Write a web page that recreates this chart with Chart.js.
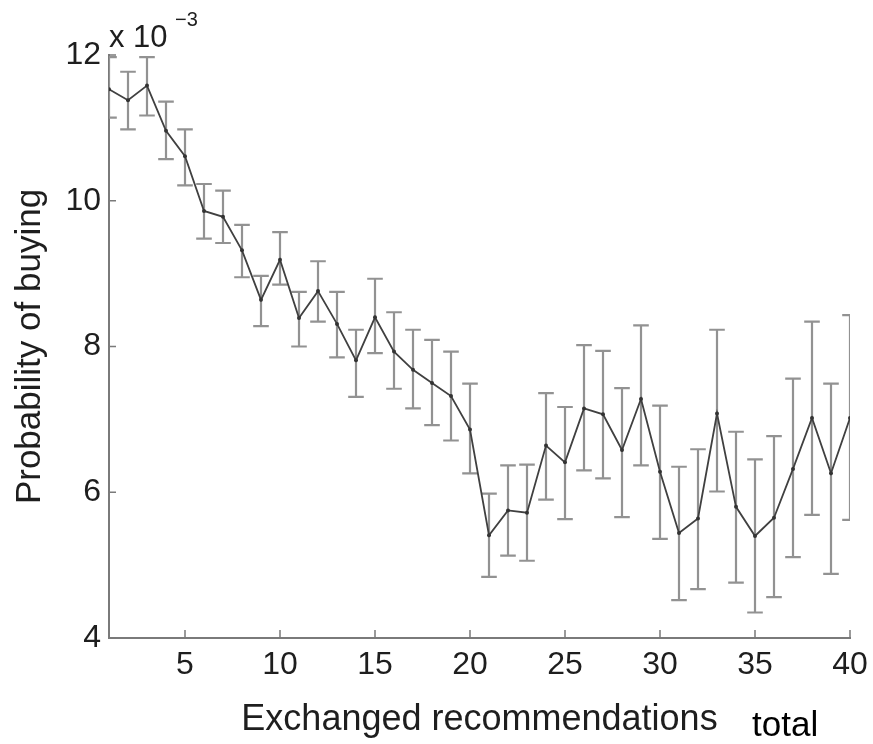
<!DOCTYPE html>
<html>
<head>
<meta charset="utf-8">
<script src="https://cdn.jsdelivr.net/npm/chart.js@4/dist/chart.umd.min.js"></script>
<style>
  html, body { margin: 0; padding: 0; background: #fff; }
  #wrap { width: 873px; height: 744px; }
</style>
</head>
<body>
<div id="wrap"><canvas id="prob-chart" width="873" height="744"></canvas></div>
<script>
/* recommendations exchanged (x) */
const counts = [1, 2, 3, 4, 5, 6, 7, 8, 9, 10,
                11, 12, 13, 14, 15, 16, 17, 18, 19, 20,
                21, 22, 23, 24, 25, 26, 27, 28, 29, 30,
                31, 32, 33, 34, 35, 36, 37, 38, 39, 40];

/* probability of buying, in units of 1e-3 */
const prob = [11.53, 11.38, 11.58, 10.96, 10.61, 9.86, 9.78, 9.32, 8.64, 9.19,
              8.39, 8.76, 8.31, 7.81, 8.40, 7.93, 7.68, 7.50, 7.32, 6.86,
              5.41, 5.75, 5.72, 6.64, 6.41, 7.15, 7.07, 6.58, 7.28, 6.28,
              5.44, 5.64, 7.08, 5.80, 5.40, 5.65, 6.32, 7.02, 6.26, 7.02];

/* error bar ends */
const probLo = [11.14, 10.98, 11.17, 10.57, 10.21, 9.48, 9.42, 8.95, 8.28, 8.85,
                8.00, 8.34, 7.85, 7.31, 7.91, 7.42, 7.15, 6.92, 6.71, 6.26,
                4.84, 5.13, 5.06, 5.90, 5.63, 6.30, 6.19, 5.66, 6.37, 5.36,
                4.52, 4.67, 6.01, 4.76, 4.35, 4.56, 5.11, 5.69, 4.88, 5.62];
const probHi = [11.97, 11.77, 11.97, 11.36, 10.98, 10.23, 10.14, 9.67, 8.97, 9.57,
                8.75, 9.17, 8.75, 8.23, 8.93, 8.47, 8.23, 8.09, 7.93, 7.49,
                5.98, 6.37, 6.38, 7.36, 7.17, 8.02, 7.94, 7.43, 8.29, 7.19,
                6.35, 6.59, 8.23, 6.83, 6.45, 6.77, 7.56, 8.34, 7.49, 8.43];

const xTicks = [5, 10, 15, 20, 25, 30, 35, 40];
const yTicks = [4, 6, 8, 10, 12];

const AXIS_GREY = '#7a7a7a';
const BAR_GREY  = '#929292';
const TEXT      = '#1e1e1e';
const FONT      = "'Liberation Sans', Arial, Helvetica, sans-serif";

/* error bars, drawn under the line */
const errorBars = {
  id: 'errorBars',
  beforeDatasetsDraw(chart) {
    const { ctx, chartArea: a, scales: { x, y } } = chart;
    ctx.save();
    ctx.beginPath();
    ctx.rect(a.left, a.top - 4, a.right - a.left, a.bottom - a.top + 8);
    ctx.clip();
    ctx.strokeStyle = BAR_GREY;
    ctx.lineWidth = 2.2;
    counts.forEach((c, i) => {
      const px = x.getPixelForValue(c);
      const lo = y.getPixelForValue(probLo[i]);
      const hi = y.getPixelForValue(probHi[i]);
      ctx.beginPath();
      ctx.moveTo(px, lo); ctx.lineTo(px, hi);
      ctx.moveTo(px - 7.8, lo); ctx.lineTo(px + 7.8, lo);
      ctx.moveTo(px - 7.8, hi); ctx.lineTo(px + 7.8, hi);
      ctx.stroke();
    });
    ctx.restore();
  }
};

/* inward tick marks, exponent label and the stray "total" */
const axisExtras = {
  id: 'axisExtras',
  afterDraw(chart) {
    const { ctx, chartArea: a, scales: { x, y } } = chart;
    ctx.save();
    ctx.strokeStyle = AXIS_GREY;
    ctx.lineWidth = 1.5;
    ctx.beginPath();
    xTicks.forEach(v => {
      const px = x.getPixelForValue(v);
      ctx.moveTo(px, a.bottom); ctx.lineTo(px, a.bottom - 8);
    });
    yTicks.forEach(v => {
      const py = y.getPixelForValue(v);
      ctx.moveTo(a.left, py); ctx.lineTo(a.left + 7, py);
    });
    ctx.stroke();

    ctx.fillStyle = TEXT;
    ctx.textBaseline = 'alphabetic';
    ctx.textAlign = 'left';
    ctx.font = `31px ${FONT}`;
    ctx.fillText('x 10', 109, 47);
    ctx.font = `20px ${FONT}`;
    ctx.fillText('\u22123', 175, 26);

    ctx.fillStyle = '#000';
    ctx.font = `35px ${FONT}`;
    ctx.fillText('total', 752, 736);
    ctx.restore();
  }
};

new Chart(document.getElementById('prob-chart'), {
  type: 'line',
  data: {
    datasets: [{
      data: counts.map((c, i) => ({ x: c, y: prob[i] })),
      borderColor: '#404040',
      borderWidth: 1.8,
      pointRadius: 2,
      pointBackgroundColor: '#333',
      pointBorderWidth: 0,
      tension: 0,
      fill: false,
    }],
  },
  options: {
    responsive: false,
    animation: false,
    devicePixelRatio: 1,
    layout: { padding: { top: 55, right: 23, left: 0, bottom: 0 } },
    plugins: { legend: { display: false }, tooltip: { enabled: false } },
    scales: {
      x: {
        type: 'linear',
        min: 1,
        max: 40,
        afterBuildTicks: s => { s.ticks = xTicks.map(v => ({ value: v })); },
        afterFit: s => { s.height = 106; s.paddingLeft = 0; s.paddingRight = 0; },
        grid: { display: false, drawTicks: false },
        border: { display: true, color: AXIS_GREY, width: 2 },
        ticks: { color: TEXT, font: { family: FONT, size: 32 }, padding: 8, maxRotation: 0 },
        title: {
          display: true,
          text: 'Exchanged recommendations',
          color: TEXT,
          font: { family: FONT, size: 36 },
          padding: { top: 0, bottom: 2 },
        },
      },
      y: {
        type: 'linear',
        min: 4,
        max: 12,
        afterBuildTicks: s => { s.ticks = yTicks.map(v => ({ value: v })); },
        afterFit: s => { s.width = 109; },
        grid: { display: false, drawTicks: false },
        border: { display: true, color: AXIS_GREY, width: 2 },
        ticks: { color: TEXT, font: { family: FONT, size: 32 }, padding: 8 },
        title: {
          display: true,
          text: 'Probability of buying',
          color: TEXT,
          font: { family: FONT, size: 35 },
          padding: { top: 9, bottom: 0 },
        },
      },
    },
  },
  plugins: [errorBars, axisExtras],
});
</script>
</body>
</html>
